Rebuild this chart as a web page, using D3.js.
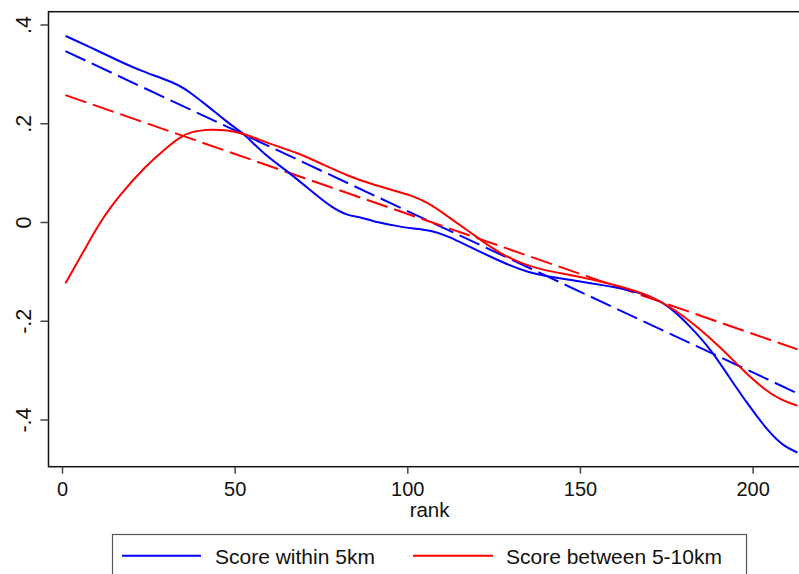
<!DOCTYPE html>
<html>
<head>
<meta charset="utf-8">
<script src="https://cdn.jsdelivr.net/npm/d3@7"></script>
<style>
  html, body { margin: 0; padding: 0; background: #fff; }
  svg { display: block; font-family: "Liberation Sans", Arial, sans-serif; }
</style>
</head>
<body>
<svg id="chart" width="799" height="574"></svg>
<script>
// ---- data ----
const xTicks = [0, 50, 100, 150, 200];
const yTicks = [-0.4, -0.2, 0, 0.2, 0.4];
const yTickLabels = ["-.4", "-.2", "0", ".2", ".4"];
const xTitle = "rank";
const seriesNames = ["Score within 5km", "Score between 5-10km"];

// smoothed score within 5km
const within5Rank = [1, 10, 18, 23, 29, 34, 37, 42, 47, 51, 53, 58, 66, 73, 78, 83, 86, 90, 97, 101, 107, 112, 118, 124, 130, 135, 141, 147, 153, 162, 170, 176, 182, 188, 193, 199, 205, 209, 213];
const within5Score = [0.377, 0.348, 0.321, 0.306, 0.291, 0.277, 0.263, 0.236, 0.207, 0.186, 0.177, 0.140, 0.099, 0.058, 0.030, 0.012, 0.011, 0.001, -0.008, -0.013, -0.017, -0.029, -0.050, -0.070, -0.089, -0.102, -0.111, -0.117, -0.124, -0.134, -0.148, -0.171, -0.212, -0.259, -0.312, -0.373, -0.428, -0.454, -0.467];

// smoothed score between 5-10km
const between5Rank = [1, 6, 11, 17, 24, 30, 34.5, 38, 43, 48, 52, 61, 68, 76, 83, 89, 97, 101, 106, 112, 118, 122, 127, 133, 139, 147, 153, 162, 170, 177, 184, 191, 197, 203, 208, 213];
const between5Score = [-0.124, -0.063, 0.001, 0.057, 0.112, 0.149, 0.174, 0.184, 0.188, 0.186, 0.181, 0.156, 0.141, 0.115, 0.093, 0.078, 0.062, 0.054, 0.040, 0.010, -0.020, -0.040, -0.064, -0.084, -0.097, -0.107, -0.115, -0.131, -0.148, -0.175, -0.212, -0.256, -0.299, -0.337, -0.360, -0.372];

// linear fits (end points)
const fitRank = [1, 213];
const within5Fit = [0.346, -0.347];
const between5Fit = [0.257, -0.258];

// ---- layout ----
const svg = d3.select("#chart");
const frame = { left: 48.5, top: 11.7, bottom: 466.7, right: 812 };
const x = d3.scaleLinear().domain([0, 200]).range([62, 752.6]);
const y = d3.scaleLinear().domain([-0.4, 0.4]).range([419.5, 24.5]);

const blue = "#0000ff", red = "#ff0000";

// frame
svg.append("rect")
  .attr("x", frame.left).attr("y", frame.top)
  .attr("width", frame.right - frame.left).attr("height", frame.bottom - frame.top)
  .attr("fill", "none").attr("stroke", "#111").attr("stroke-width", 1.5);

// x axis
const xAxis = d3.axisBottom(x).tickValues(xTicks).tickSize(7).tickSizeOuter(0).tickFormat(d3.format("d"));
const gx = svg.append("g").attr("transform", `translate(0,${frame.bottom})`).call(xAxis);
gx.select(".domain").remove();
gx.selectAll(".tick line").attr("stroke", "#444").attr("stroke-width", 1.5);
gx.selectAll(".tick text").attr("y", 29.5).attr("dy", 0)
  .attr("font-size", 20).attr("fill", "#111")
  .attr("font-family", "Liberation Sans, Arial, sans-serif");

// y axis
const yAxis = d3.axisLeft(y).tickValues(yTicks).tickSize(8).tickSizeOuter(0)
  .tickFormat((d, i) => yTickLabels[i]);
const gy = svg.append("g").attr("transform", `translate(${frame.left},0)`).call(yAxis);
gy.select(".domain").remove();
gy.selectAll(".tick line").attr("stroke", "#444").attr("stroke-width", 1.5);
gy.selectAll(".tick text")
  .attr("x", 0).attr("y", 0).attr("dy", 0)
  .attr("text-anchor", "middle")
  .attr("transform", `translate(${31 - frame.left},0) rotate(-90)`)
  .attr("font-size", 21.5).attr("fill", "#111")
  .attr("font-family", "Liberation Sans, Arial, sans-serif");

// axis title
svg.append("text").attr("x", 429.6).attr("y", 517)
  .attr("text-anchor", "middle").attr("font-size", 20.5).attr("fill", "#111")
  .text(xTitle);

// clip for plot
svg.append("clipPath").attr("id", "clip").append("rect")
  .attr("x", frame.left).attr("y", frame.top)
  .attr("width", frame.right - frame.left).attr("height", frame.bottom - frame.top);
const plot = svg.append("g").attr("clip-path", "url(#clip)");

const line = d3.line().x(d => x(d[0])).y(d => y(d[1])).curve(d3.curveBasis);
const straight = d3.line().x(d => x(d[0])).y(d => y(d[1]));

const zip = (a, b) => a.map((v, i) => [v, b[i]]);

// fitted dashed lines
plot.append("path").datum(zip(fitRank, within5Fit)).attr("d", straight)
  .attr("fill", "none").attr("stroke", blue).attr("stroke-width", 2).attr("stroke-dasharray", "22,7");
plot.append("path").datum(zip(fitRank, between5Fit)).attr("d", straight)
  .attr("fill", "none").attr("stroke", red).attr("stroke-width", 2).attr("stroke-dasharray", "22,7");

// smoothed solid lines
plot.append("path").datum(zip(within5Rank, within5Score)).attr("d", line)
  .attr("fill", "none").attr("stroke", blue).attr("stroke-width", 2);
plot.append("path").datum(zip(between5Rank, between5Score)).attr("d", line)
  .attr("fill", "none").attr("stroke", red).attr("stroke-width", 2);

// legend
const leg = svg.append("g");
leg.append("rect").attr("x", 112.5).attr("y", 534.5).attr("width", 634).attr("height", 60)
  .attr("fill", "#fff").attr("stroke", "#555").attr("stroke-width", 1.2);
const legItems = [
  { name: seriesNames[0], color: blue, x0: 122, x1: 201, tx: 215 },
  { name: seriesNames[1], color: red, x0: 413, x1: 493, tx: 506 }
];
legItems.forEach(it => {
  leg.append("line").attr("x1", it.x0).attr("x2", it.x1).attr("y1", 555.7).attr("y2", 555.7)
    .attr("stroke", it.color).attr("stroke-width", 2);
  leg.append("text").attr("x", it.tx).attr("y", 563.5).attr("font-size", 21).attr("fill", "#111")
    .text(it.name);
});
</script>
</body>
</html>
